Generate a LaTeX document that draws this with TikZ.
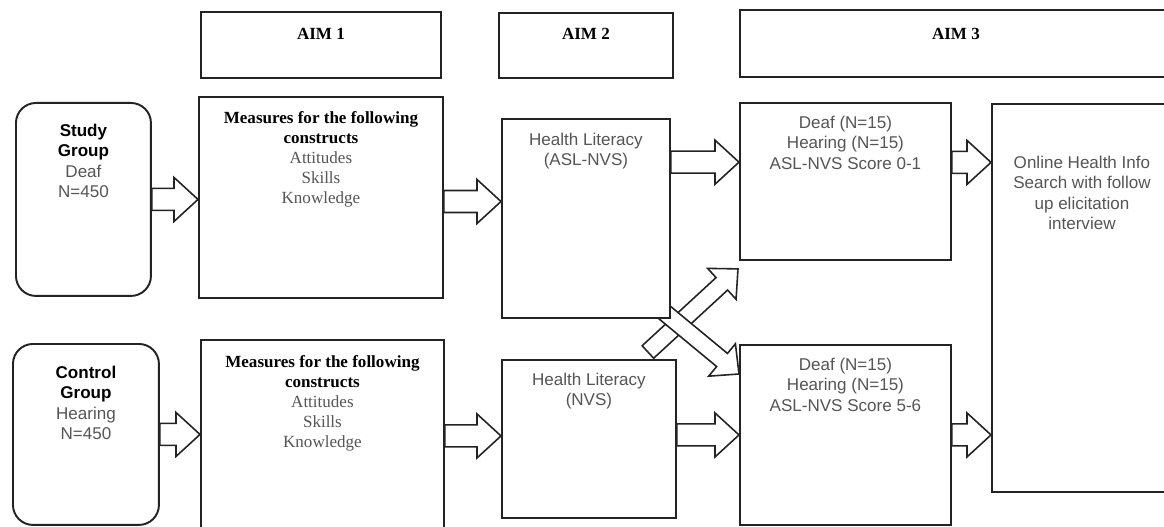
\documentclass[tikz,border=0pt]{standalone}
\usepackage{fontspec}
\setmainfont{Liberation Serif}
\setsansfont{Liberation Sans}
\usepackage{tikz}
\usetikzlibrary{
  arrows.meta, positioning, calc, backgrounds
}
\usepackage{xcolor}
\definecolor{aimline}{RGB}{35,35,35}
\definecolor{aimtext}{RGB}{85,85,85}

\newcommand{\boxtext}[4]{%
  \begin{minipage}[t][#2][t]{#1}\centering
    \rule{0pt}{#3}#4%
  \end{minipage}}

% hollow block arrow: from, to, half shaft, half head, head length
\newcommand{\blockarrow}[5]{%
  \path (#1) coordinate (ba-a);
  \path (#2) coordinate (ba-b);
  \path ($(ba-b)!#5!(ba-a)$) coordinate (ba-h);
  \draw[hollow arrow] ($(ba-a)!#3!90:(ba-b)$) -- ($(ba-h)!#3!-90:(ba-a)$)
    -- ($(ba-h)!#4!-90:(ba-a)$) -- (ba-b) -- ($(ba-h)!#4!90:(ba-a)$)
    -- ($(ba-h)!#3!90:(ba-a)$) -- ($(ba-a)!#3!-90:(ba-b)$) -- cycle;
}
\newcommand{\hblock}[2]{\blockarrow{#1}{#2}{0.22cm}{0.44cm}{0.48cm}}
\newcommand{\dblock}[2]{\blockarrow{#1}{#2}{0.17cm}{0.42cm}{0.44cm}}

\begin{document}
\begin{tikzpicture}[x=0.02cm, y=-0.02cm,
    box/.style={draw=aimline, line width=1.1pt, fill=white, inner sep=0pt,
      anchor=north west, font=\fontsize{9.7pt}{11.4pt}\selectfont},
    group/.style={box, rounded corners=0.4cm},
    hollow arrow/.style={draw=aimline, line width=0.9pt, fill=white, line join=miter}]
    \useasboundingbox (0,0) rectangle (1164,527);

    % aims
    \node[box] (aim1) at (200,11) {\boxtext{4.8cm}{1.32cm}{0.55cm}{\textbf{AIM 1}}};
    \node[box] (aim2) at (498,12) {\boxtext{3.48cm}{1.3cm}{0.53cm}{\textbf{AIM 2}}};
    \node[box] (aim3) at (739,9) {\boxtext{8.64cm}{1.34cm}{0.59cm}{\textbf{AIM 3}}};

    % groups
    \node[group] (study) at (15,102) {\boxtext{2.7cm}{3.86cm}{0.68cm}{\sffamily
      \textbf{Study}\\\textbf{Group}\\{\color{aimtext}Deaf\\N=450}}};
    \node[group] (control) at (12,343) {\boxtext{2.92cm}{3.62cm}{0.7cm}{\sffamily
      \textbf{Control}\\\textbf{Group}\\{\color{aimtext}Hearing\\N=450}}};

    % aim 1
    \node[box] (meas1) at (198,96) {\boxtext{4.88cm}{4.02cm}{0.53cm}{%
      \textbf{Measures for the following}\\\textbf{constructs}\\
      {\color{aimtext}Attitudes\\Skills\\Knowledge}}};
    \node[box] (meas2) at (200,339) {\boxtext{4.86cm}{3.84cm}{0.55cm}{%
      \textbf{Measures for the following}\\\textbf{constructs}\\
      {\color{aimtext}Attitudes\\Skills\\Knowledge}}};

    % aim 2
    \node[box] (hlasl) at (501,118) {\boxtext{3.36cm}{3.98cm}{0.54cm}{\sffamily
      \color{aimtext}Health Literacy\\(ASL-NVS)}};
    \node[box] (hlnvs) at (501,359) {\boxtext{3.48cm}{3.16cm}{0.52cm}{\sffamily
      \color{aimtext}Health Literacy\\(NVS)}};

    % aim 3
    \node[box] (deaftop) at (739,102) {\boxtext{4.22cm}{3.14cm}{0.52cm}{\sffamily
      \color{aimtext}Deaf (N=15)\\Hearing (N=15)\\ASL-NVS Score 0-1}};
    \node[box] (deafbot) at (739,344) {\boxtext{4.22cm}{3.6cm}{0.52cm}{\sffamily
      \color{aimtext}Deaf (N=15)\\Hearing (N=15)\\ASL-NVS Score 5-6}};
    \node[box] (online) at (991,103) {\boxtext{3.6cm}{7.76cm}{1.3cm}{\sffamily
      \color{aimtext}Online Health Info\\Search with follow\\up elicitation\\interview}};

    \coordinate (r1) at ($(meas1.north east)!.52!(meas1.south east)$);
    \coordinate (r2) at ($(hlasl.north east)!.22!(hlasl.south east)$);
    \coordinate (r3) at ($(deaftop.north east)!.38!(deaftop.south east)$);
    \coordinate (upfrom) at ($(hlnvs.north east)+(-29,-7)$);
    \coordinate (upto) at ($(deaftop.south west)+(-1,8)$);
    \coordinate (downfrom) at ($(hlasl.south east)+(-7,-7)$);
    \coordinate (downto) at ($(deafbot.north west)+(0,30)$);

    \begin{scope}[on background layer]
      \dblock{upfrom}{upto}
      \dblock{downfrom}{downto}
      \hblock{study.east}{study.east -| meas1.west}
      \hblock{control.east}{control.east -| meas2.west}
      \hblock{r1}{r1 -| hlasl.west}
      \hblock{meas2.east}{meas2.east -| hlnvs.west}
      \hblock{r2}{r2 -| deaftop.west}
      \hblock{deafbot.west -| hlnvs.east}{deafbot.west}
      \hblock{r3}{r3 -| online.west}
      \hblock{deafbot.east}{deafbot.east -| online.west}
    \end{scope}
  \end{tikzpicture}
\end{document}
